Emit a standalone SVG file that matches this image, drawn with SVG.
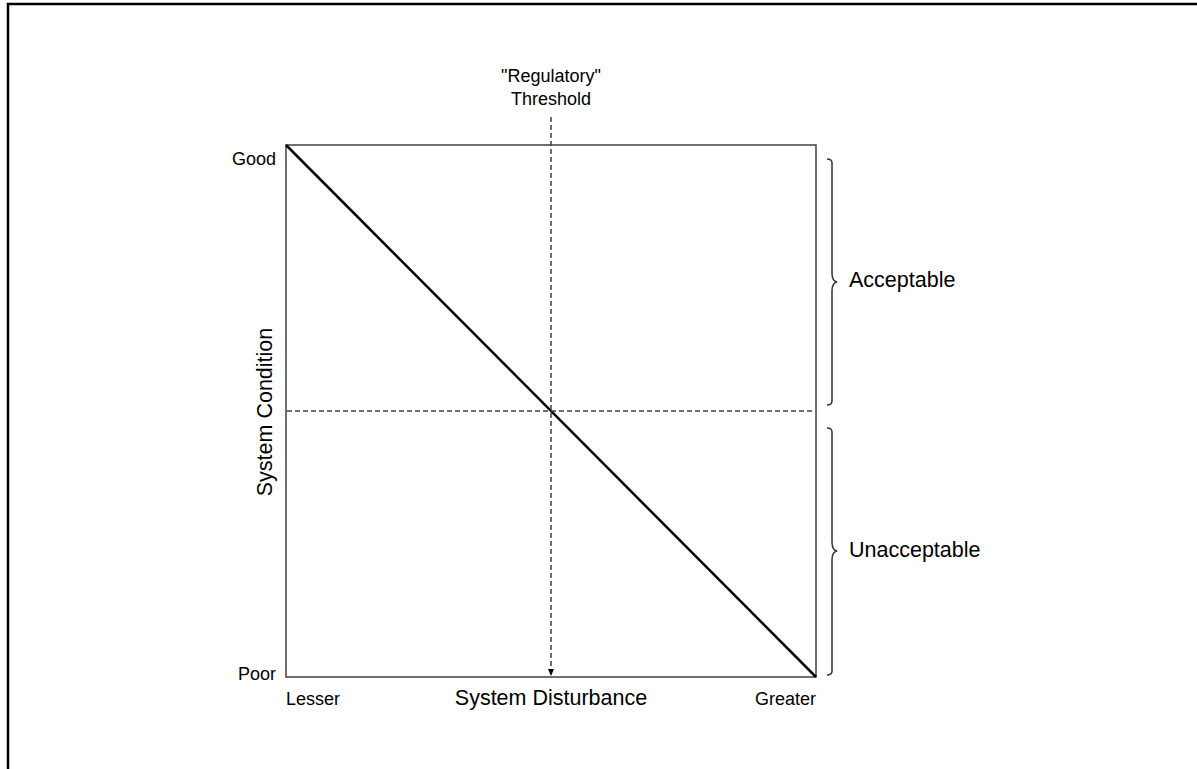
<svg xmlns="http://www.w3.org/2000/svg" width="1197" height="769" viewBox="0 0 1197 769">
<style>
text{font-family:"Liberation Sans",Arial,sans-serif;fill:#000}
.s{font-size:18px}
.l{font-size:21.5px}
.dash{stroke:#404040;stroke-width:1.5;stroke-dasharray:5,3;fill:none}
.brace{stroke:#333;stroke-width:1.5;fill:none}
</style>
<defs>
<marker id="ah" markerWidth="8" markerHeight="8" refX="7" refY="4" orient="auto" markerUnits="userSpaceOnUse">
<path d="M0,1 L7,4 L0,7 Z" fill="#000"/>
</marker>
</defs>
<rect x="0" y="0" width="1197" height="769" fill="#fff"/>
<rect x="8" y="4" width="1200" height="780" fill="none" stroke="#000" stroke-width="2.5"/>
<g id="plot">
<rect x="286" y="145" width="530" height="532" fill="none" stroke="#404040" stroke-width="1.5"/>
</g>
<g id="connectors">
<line x1="286" y1="145" x2="816" y2="677" stroke="#000" stroke-width="2.5"/>
<line class="dash" x1="287" y1="411" x2="815" y2="411"/>
<line class="dash" x1="551" y1="117" x2="551" y2="676" marker-end="url(#ah)"/>
</g>
<g id="threshold">
<text class="s" x="551" y="82" text-anchor="middle">"Regulatory"</text>
<text class="s" x="551" y="105" text-anchor="middle">Threshold</text>
</g>
<g id="y-axis">
<text class="s" x="276" y="165" text-anchor="end">Good</text>
<text class="s" x="276" y="680" text-anchor="end">Poor</text>
<text class="l" transform="translate(272,412) rotate(-90)" text-anchor="middle">System Condition</text>
</g>
<g id="x-axis">
<text class="s" x="286" y="705">Lesser</text>
<text class="s" x="816" y="705" text-anchor="end">Greater</text>
<text class="l" x="551" y="705" text-anchor="middle">System Disturbance</text>
</g>
<g id="acceptable">
<path class="brace" d="M827,159 Q832,159 832,163 L832,273 Q832,281 837,282 Q832,283 832,291 L832,401 Q832,405 827,405"/>
<text class="l" x="849" y="287">Acceptable</text>
</g>
<g id="unacceptable">
<path class="brace" d="M827,428 Q832,428 832,432 L832,542 Q832,550 837,551 Q832,552 832,560 L832,671 Q832,675 827,675"/>
<text class="l" x="849" y="557">Unacceptable</text>
</g>
</svg>
